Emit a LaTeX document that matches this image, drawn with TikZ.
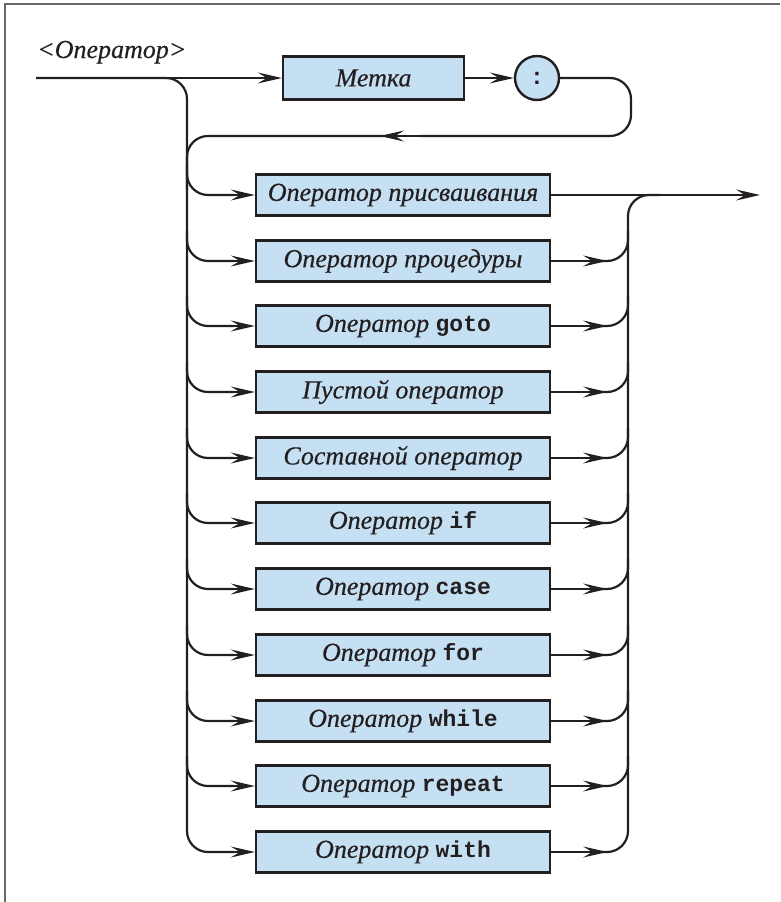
\documentclass[tikz,border=0pt]{standalone}
\usepackage{fontspec}
\setmainfont{Liberation Serif}[ItalicFeatures={FakeBold=0.45}]
\setmonofont{Liberation Mono}
\usetikzlibrary{arrows.meta}
\definecolor{boxfill}{RGB}{197,224,242}
\definecolor{ink}{RGB}{35,31,32}
\definecolor{framegray}{RGB}{105,105,105}
% keyword in bold typewriter
\newcommand{\kw}[1]{{\upshape\ttfamily\bfseries\fontsize{23}{26}\selectfont #1}}

\begin{document}
\begin{tikzpicture}[x=1pt,y=-1pt,
  synbox/.style={draw=ink, line width=2.4pt, fill=boxfill, minimum width=294pt,
    minimum height=41pt, inner sep=0pt, text=ink,
    font=\fontsize{26}{28}\selectfont\itshape},
  termcirc/.style={circle, draw=ink, line width=2.4pt, fill=boxfill,
    minimum size=44pt, inner sep=0pt, text=ink},
  wire/.style={draw=ink, line width=2.2pt, rounded corners=21pt},
  arr/.style={draw=ink, line width=2.2pt,
    -{Stealth[length=24pt, width=11pt, inset=9pt, line width=1.3pt]}}
]
\useasboundingbox (0,0) rectangle (780,902);
% frame
\draw[framegray, line width=1.6pt] (5,902) -- (5,4) -- (780,4);

% heading
\node[anchor=base west, inner sep=0pt, text=ink,
  font=\fontsize{26}{28}\selectfont\itshape] (title) at (37,58) {<Оператор>};

% entry, label and colon
\coordinate (start) at (36,78);
\node[synbox, minimum width=181pt, minimum height=43pt] (label) at (373.5,78) {Метка};
\node[termcirc] (colon) at (537,78) {\kw{:}};

% alternatives, one row every 65.7pt (rounded to whole points)
\foreach \i/\txt in {0/{Оператор присваивания},
                     1/{Оператор процедуры},
                     2/{Оператор \kw{goto}},
                     3/{Пустой оператор},
                     4/{Составной оператор},
                     5/{Оператор \kw{if}},
                     6/{Оператор \kw{case}},
                     7/{Оператор \kw{for}},
                     8/{Оператор \kw{while}},
                     9/{Оператор \kw{repeat}},
                     10/{Оператор \kw{with}}} {
  \pgfmathsetmacro{\rowy}{round(195+65.7*\i)}
  \node[synbox] (alt\i) at (403, \rowy) {\txt};
}

% junction points
\coordinate (leftTop) at (187,78);
\coordinate (loopR) at (631,136);
\coordinate (backTip) at (380,136);
\coordinate (backL) at (187,136);
\coordinate (busR) at (628,195);
\coordinate (exit) at (760,195);

% entry line to the label and the colon
\draw[arr] (start) -- (label.west);
\draw[arr] (label.east) -- (colon.west);

% loop back from the colon
\draw[wire] (colon.east) -| (loopR) -- (420,136);
\draw[arr] (430,136) -- (backTip);
\draw[wire] (390,136) -- (backL) -- (187,190);

% left bus down to the last alternative
\draw[wire] (start) -- (leftTop) |- ([xshift=-21pt]alt10.west);

% left branches
\foreach \i in {0,...,9}
  \draw[wire] ([yshift=30pt]alt\i.west -| leftTop) |- ([xshift=-21pt]alt\i.west);
\foreach \i in {0,...,10}
  \draw[arr] ([xshift=-31pt]alt\i.west) -- (alt\i.west);

% right branches
\foreach \i in {1,...,10}
  \draw[arr] (alt\i.east) -- ([xshift=56pt]alt\i.east);
\foreach \i in {1,...,9}
  \draw[wire] ([xshift=48pt]alt\i.east) -| ([yshift=30pt]alt\i.east -| busR);
\draw[wire] ([xshift=48pt]alt10.east) -| (busR) -- (660,195);

% exit
\draw[arr] (alt0.east) -- (exit);
\end{tikzpicture}
\end{document}
